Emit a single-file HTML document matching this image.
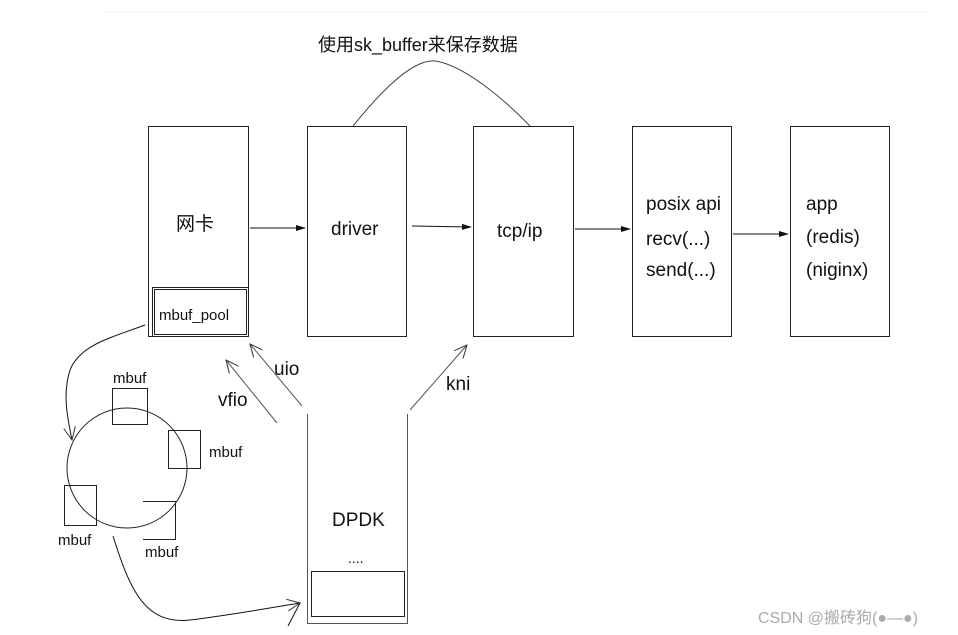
<!DOCTYPE html><html><head><meta charset="utf-8"><style>body{margin:0;background:#fff}svg{display:block}text{font-family:"Liberation Sans","Noto Sans CJK SC",sans-serif;fill:#111}</style></head><body>
<svg width="958" height="635" viewBox="0 0 958 635">
<defs><marker id="a" markerWidth="10" markerHeight="8" refX="9" refY="4" orient="auto" markerUnits="userSpaceOnUse"><path d="M0,1 L10,4 L0,7 Z" fill="#111"/></marker>
<marker id="o" markerWidth="14" markerHeight="12" refX="13" refY="6" orient="auto" markerUnits="userSpaceOnUse"><path d="M0,0 L13,6 L0,12" fill="none" stroke="#333" stroke-width="1"/></marker></defs>
<line x1="104" y1="12" x2="928" y2="12" stroke="#eee"/>
<text x="318" y="51" font-size="18">使用sk_buffer来保存数据</text>
<path d="M353,126 C390,80 420,55 440,62 C465,68 500,95 530,126" fill="none" stroke="#444"/>
<g fill="none" stroke="#222" stroke-width="1">
<rect x="148.5" y="126.5" width="100" height="210"/>
<rect x="152.5" y="287.5" width="96" height="49"/><rect x="154.5" y="289.5" width="92" height="45"/>
<rect x="307.5" y="126.5" width="99" height="210"/>
<rect x="473.5" y="126.5" width="100" height="210"/>
<rect x="632.5" y="126.5" width="99" height="210"/>
<rect x="790.5" y="126.5" width="99" height="210"/>
<path d="M307.5,414 V623.5 H407.5 V414" stroke="#555"/>
<rect x="311.5" y="571.5" width="93" height="45"/>
<circle cx="127" cy="468" r="60"/>
<rect x="112.5" y="388.5" width="35" height="36"/>
<rect x="168.5" y="430.5" width="32" height="38"/>
<rect x="64.5" y="485.5" width="32" height="40"/>
<path d="M143,501.5 H175.5 V539.5 H143"/>
</g>
<g stroke="#111" fill="none">
<line x1="250" y1="228" x2="305" y2="228" marker-end="url(#a)"/>
<line x1="412" y1="226" x2="471" y2="227" marker-end="url(#a)"/>
<line x1="575" y1="229" x2="630" y2="229" marker-end="url(#a)"/>
<line x1="733" y1="234" x2="788" y2="234" marker-end="url(#a)"/>
<path d="M145,325 C110,338 80,345 70,370 C62,395 68,420 72,440" marker-end="url(#o)"/>
<path d="M113,536 C130,590 145,625 190,620 C230,615 270,608 300,603" marker-end="url(#o)"/>
<line x1="302" y1="406" x2="250" y2="344" stroke="#555" marker-end="url(#o)"/>
<line x1="277" y1="423" x2="226" y2="360" stroke="#555" marker-end="url(#o)"/>
<line x1="410" y1="410" x2="467" y2="345" stroke="#555" marker-end="url(#o)"/>
<line x1="300" y1="603" x2="288" y2="626"/>
</g>
<text x="176" y="230" font-size="19">网卡</text>
<text x="159" y="320" font-size="15">mbuf_pool</text>
<text x="331" y="235" font-size="19">driver</text>
<text x="497" y="237" font-size="19">tcp/ip</text>
<text x="646" y="210" font-size="19">posix api</text>
<text x="646" y="245" font-size="19">recv(...)</text>
<text x="646" y="276" font-size="19">send(...)</text>
<text x="806" y="210" font-size="19">app</text>
<text x="806" y="243" font-size="19">(redis)</text>
<text x="806" y="276" font-size="19">(niginx)</text>
<text x="332" y="526" font-size="19">DPDK</text>
<text x="348" y="563" font-size="14">....</text>
<text x="274" y="375" font-size="19">uio</text>
<text x="218" y="406" font-size="19">vfio</text>
<text x="446" y="390" font-size="19">kni</text>
<text x="113" y="383" font-size="15">mbuf</text>
<text x="209" y="457" font-size="15">mbuf</text>
<text x="58" y="545" font-size="15">mbuf</text>
<text x="145" y="557" font-size="15">mbuf</text>
<text x="758" y="623" font-size="16" style="fill:#aaa">CSDN @搬砖狗(●—●)</text>
</svg></body></html>
